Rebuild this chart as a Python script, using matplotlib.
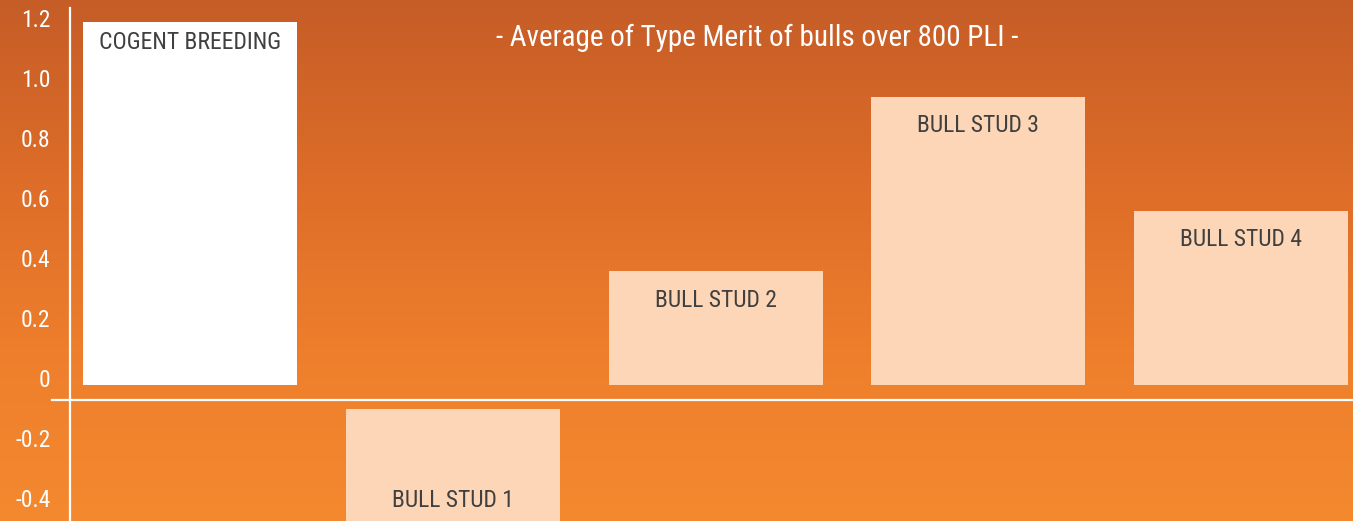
import matplotlib
matplotlib.use("Agg")
import matplotlib.pyplot as plt
import numpy as np
from matplotlib.transforms import ScaledTranslation
from matplotlib.colors import LinearSegmentedColormap

# data
studs = ["COGENT BREEDING", "BULL STUD 1", "BULL STUD 2", "BULL STUD 3", "BULL STUD 4"]
type_merit = [1.21, -0.46, 0.38, 0.96, 0.58]
ticks = [-0.4, -0.2, 0, 0.2, 0.4, 0.6, 0.8, 1.0, 1.2]
tick_labels = ["-0.4", "-0.2", "0", "0.2", "0.4", "0.6", "0.8", "1.0", "1.2"]
title = "- Average of Type Merit of bulls over 800 PLI -"

plt.rcParams["font.family"] = ["Roboto Condensed", "DejaVu Sans"]

fig = plt.figure(figsize=(13.53, 5.21), dpi=100)
ax = fig.add_axes([0, 0, 1, 1])

x = np.arange(len(studs))
ax.set_xlim(-0.7254, 4.427)
ax.set_ylim(-0.4533, 1.2833)

# orange background, darker at the top
bg = LinearSegmentedColormap.from_list("bg", ["#f4892f", "#ee7e2c", "#dc6c28", "#c65d27"])
grad = np.linspace(0, 1, 256).reshape(-1, 1) * np.ones((1, 16))
ax.imshow(grad, cmap=bg, aspect="auto", origin="lower",
          extent=[-0.7254, 4.427, -0.4533, 1.2833], zorder=0)

colors = ["white", "#fcd6b6", "#fcd6b6", "#fcd6b6", "#fcd6b6"]
neg_gap = -0.08
for i, (name, val) in enumerate(zip(studs, type_merit)):
    if val >= 0:
        ax.bar(x[i], val, width=0.815, color=colors[i], zorder=2)
        ax.text(x[i], val, name, ha="center", va="top", fontsize=17,
                color="#404040", zorder=3,
                transform=ax.transData + ScaledTranslation(0, -0.09 if i == 0 else -0.175, fig.dpi_scale_trans))
    else:
        ax.bar(x[i], val, bottom=neg_gap, width=0.815, color=colors[i], zorder=2)
        ax.text(x[i], -0.385, name, ha="center", va="center", fontsize=17,
                color="#404040", zorder=3)

# axis lines
for s in ["top", "right"]:
    ax.spines[s].set_visible(False)
ax.spines["left"].set_position(("data", -0.459))
ax.spines["left"].set_bounds(-0.4533, 1.2567)
ax.spines["bottom"].set_position(("data", -0.05))
ax.spines["bottom"].set_bounds(-0.527, 4.427)
for s in ["left", "bottom"]:
    ax.spines[s].set_color("white")
    ax.spines[s].set_linewidth(1.6)
    ax.spines[s].set_zorder(4)

ax.set_xticks([])
ax.set_yticks(ticks)
ax.set_yticklabels(tick_labels)
ax.tick_params(axis="y", length=0, pad=14, labelsize=17, labelcolor="white")
for lab in ax.get_yticklabels():
    lab.set_transform(lab.get_transform() + ScaledTranslation(0, 0.07, fig.dpi_scale_trans))

fig.text(757 / 1353, 1 - 38 / 521, title, ha="center", va="center",
         fontsize=21, color="white")

fig.savefig("out.png", dpi=100)
